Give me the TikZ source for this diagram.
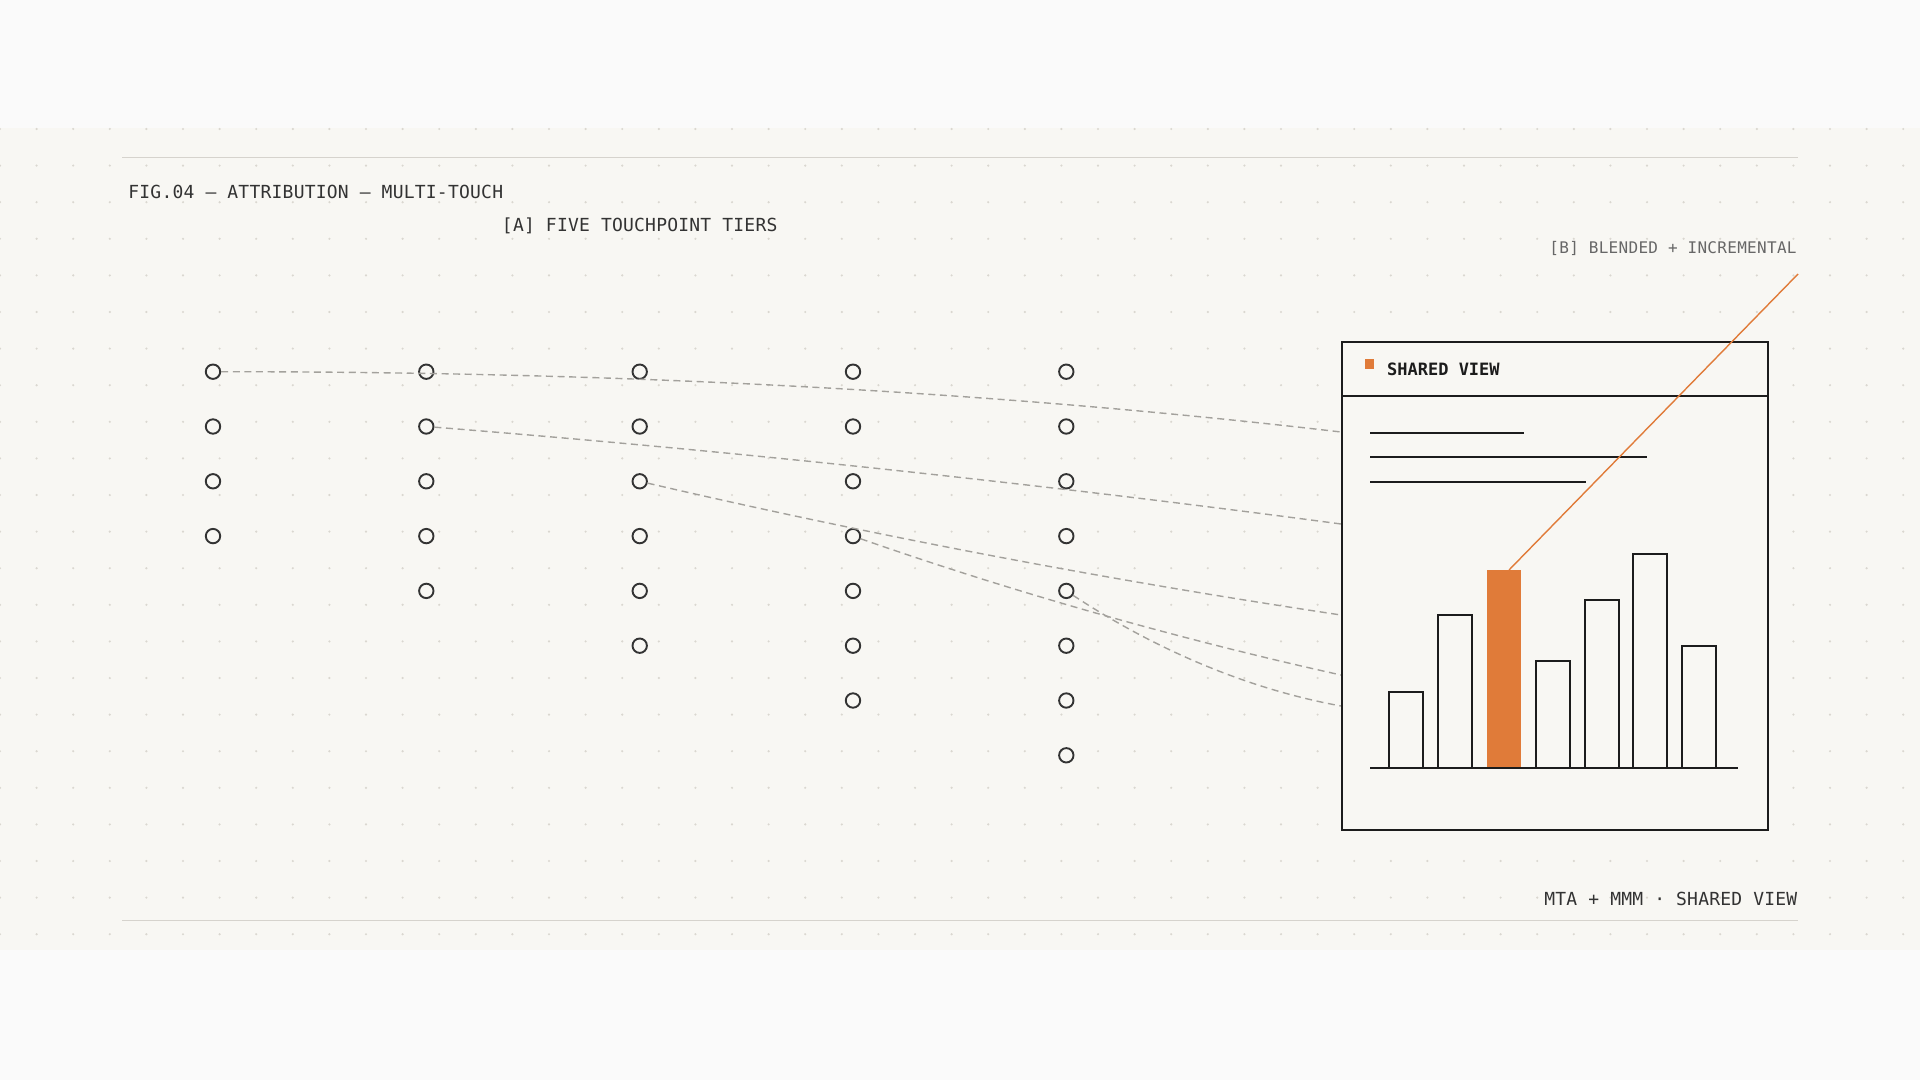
\documentclass[tikz,border=0pt]{standalone}
\usepackage{xcolor}
\usepackage{fontspec}
\usepackage{tikz}
\setmonofont{DejaVu Sans Mono}
\newfontfamily\figfont[LetterSpace=1.2]{DejaVu Sans Mono}
\newfontfamily\tagfont[LetterSpace=1.9]{DejaVu Sans Mono}
\newfontfamily\headfont{DejaVu Sans Mono}
\definecolor{page}{HTML}{FAFAFA}
\definecolor{paper}{HTML}{F8F7F3}
\definecolor{ink}{HTML}{1C1C1C}
\definecolor{soft}{HTML}{333333}
\definecolor{mute}{HTML}{676767}
\definecolor{rulegray}{HTML}{D6D3CD}
\definecolor{dotgray}{HTML}{DAD7D0}
\definecolor{linkgray}{HTML}{A3A19C}
\definecolor{accent}{HTML}{E07B39}
\tikzset{
    touch/.style={draw=soft,circle,line width=0.95pt,minimum size=7.2pt,inner sep=0pt},
    trail/.style={draw=linkgray,dash pattern=on 3.5pt off 2.3pt,line width=0.7pt},
    stroke/.style={draw=ink,line width=1pt},
    txt/.style={inner sep=0pt,text=soft}
}

\begin{document}
\begin{tikzpicture}[x=0.5pt,y=-0.5pt]
    \useasboundingbox (0,0) rectangle (1920,1080);
    \fill[page] (0,0) rectangle (1920,1080);
    \fill[paper] (0,128) rectangle (1920,950);
    \foreach \i in {0,...,52}
        \foreach \j in {0,...,22}
            \fill[dotgray] (\i*36.6,129+\j*36.6) circle (0.6pt);
    \draw[rulegray,line width=0.5pt] (122,158) -- (1798,158);
    \draw[rulegray,line width=0.5pt] (122,920) -- (1798,920);

    \node[txt,anchor=base west] (title) at (128,199) {\figfont\fontsize{9pt}{11pt}\selectfont FIG.04 — ATTRIBUTION — MULTI-TOUCH};
    \node[txt,anchor=base] (tiers) at (639.7,232) {\figfont\fontsize{9pt}{11pt}\selectfont [A] FIVE TOUCHPOINT TIERS};
    \node[txt,text=mute,anchor=base east] (blend) at (1797,253.3) {\tagfont\fontsize{8pt}{10pt}\selectfont [B] BLENDED + INCREMENTAL};
    \node[txt,anchor=base east] (foot) at (1797.7,905.7) {\figfont\fontsize{9pt}{11pt}\selectfont MTA + MMM · SHARED VIEW};

    \node[touch] (t11) at (213,371.7) {};
    \node[touch] (t12) at (213,426.5) {};
    \node[touch] (t13) at (213,481.3) {};
    \node[touch] (t14) at (213,536.1) {};
    \node[touch] (t21) at (426.3,371.7) {};
    \node[touch] (t22) at (426.3,426.5) {};
    \node[touch] (t23) at (426.3,481.3) {};
    \node[touch] (t24) at (426.3,536.1) {};
    \node[touch] (t25) at (426.3,590.9) {};
    \node[touch] (t31) at (639.7,371.7) {};
    \node[touch] (t32) at (639.7,426.5) {};
    \node[touch] (t33) at (639.7,481.3) {};
    \node[touch] (t34) at (639.7,536.1) {};
    \node[touch] (t35) at (639.7,590.9) {};
    \node[touch] (t36) at (639.7,645.7) {};
    \node[touch] (t41) at (853,371.7) {};
    \node[touch] (t42) at (853,426.5) {};
    \node[touch] (t43) at (853,481.3) {};
    \node[touch] (t44) at (853,536.1) {};
    \node[touch] (t45) at (853,590.9) {};
    \node[touch] (t46) at (853,645.7) {};
    \node[touch] (t47) at (853,700.5) {};
    \node[touch] (t51) at (1066.3,371.7) {};
    \node[touch] (t52) at (1066.3,426.5) {};
    \node[touch] (t53) at (1066.3,481.3) {};
    \node[touch] (t54) at (1066.3,536.1) {};
    \node[touch] (t55) at (1066.3,590.9) {};
    \node[touch] (t56) at (1066.3,645.7) {};
    \node[touch] (t57) at (1066.3,700.5) {};
    \node[touch] (t58) at (1066.3,755.3) {};

    \coordinate (in1) at (1341,432);
    \coordinate (in2) at (1341,524);
    \coordinate (in3) at (1341,615);
    \coordinate (in4) at (1341,675);
    \coordinate (in5) at (1341,706);
    \draw[trail] (t11) .. controls (589,371.7) and (965,388) .. (in1);
    \draw[trail] (t22) .. controls (731,450.9) and (1036,483.3) .. (in2);
    \draw[trail] (t33) .. controls (873,535.5) and (1107,579.9) .. (in3);
    \draw[trail] (t44) .. controls (1015.9,592.9) and (1178.4,639) .. (in4);
    \draw[trail] (t55) .. controls (1158.1,651.2) and (1249.6,689.3) .. (in5);

    \node[stroke,fill=paper,anchor=north west,minimum width=213pt,minimum height=244pt,inner sep=0pt] (card) at (1341,341) {};
    \draw[stroke] (1341,396) -- (1767,396);
    \fill[accent] (1365,359.5) rectangle (1374,368.5);
    \node[txt,text=ink,anchor=base west] (head) at (1386.7,375.7) {\headfont\bfseries\fontsize{8.5pt}{10pt}\selectfont SHARED VIEW};
    \draw[stroke] (1370,432.7) -- (1524.3,432.7);
    \draw[stroke] (1370,457) -- (1646.7,457);
    \draw[stroke] (1370,481.7) -- (1585.7,481.7);

    \draw[stroke] (1389.3,767.7) rectangle (1423.3,691.7);
    \draw[stroke] (1438.1,767.7) rectangle (1472.1,615.3);
    \fill[accent] (1486.9,767.7) rectangle (1520.9,570);
    \draw[stroke] (1535.7,767.7) rectangle (1569.7,661.3);
    \draw[stroke] (1584.5,767.7) rectangle (1618.5,600);
    \draw[stroke] (1633.3,767.7) rectangle (1667.3,554.3);
    \draw[stroke] (1682.1,767.7) rectangle (1716.1,646);
    \draw[stroke] (1370,767.7) -- (1738,767.7);

    \coordinate (peak) at (1509,570);
    \coordinate (tip) at (1798,274);
    \draw[accent,line width=0.7pt] (peak) -- (tip);
\end{tikzpicture}
\end{document}
